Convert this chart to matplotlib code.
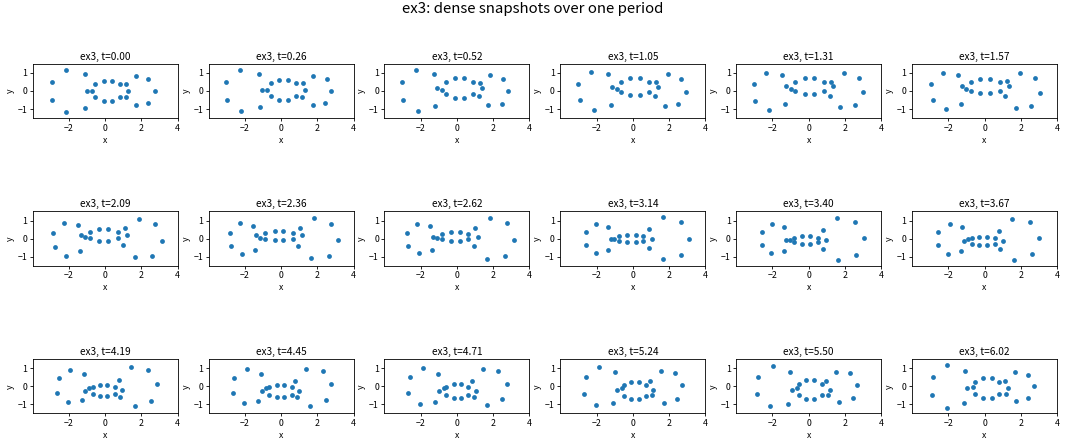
import matplotlib
matplotlib.use("Agg")
import matplotlib.pyplot as plt

plt.rcParams['font.family'] = ['Noto Sans CJK JP', 'DejaVu Sans']

times = [0.00, 0.26, 0.52, 1.05, 1.31, 1.57,
         2.09, 2.36, 2.62, 3.14, 3.40, 3.67,
         4.19, 4.45, 4.71, 5.24, 5.50, 6.02]

# point positions (24 points per frame)
xs = [
    [-2.95, -2.95, -2.15, -2.15, -1.14, -1.14, -1.03, -0.73, -0.55, -0.55, -0.09, -0.09,
     0.37, 0.37, 0.81, 0.81, 1.16, 1.16, 1.27, 1.72, 1.72, 2.37, 2.37, 2.72],
    [-3.02, -2.97, -2.25, -2.19, -1.24, -1.18, -1.07, -0.76, -0.57, -0.57, -0.13, -0.13,
     0.37, 0.37, 0.85, 0.85, 1.22, 1.18, 1.31, 1.75, 1.75, 2.51, 2.43, 2.77],
    [-3.01, -2.97, -2.28, -2.15, -1.28, -1.19, -1.10, -0.81, -0.59, -0.59, -0.11, -0.11,
     0.39, 0.39, 0.86, 0.86, 1.25, 1.19, 1.36, 1.85, 1.74, 2.55, 2.46, 2.83],
    [-3.01, -2.90, -2.32, -2.14, -1.37, -1.22, -1.17, -0.89, -0.66, -0.66, -0.15, -0.15,
     0.37, 0.37, 0.88, 0.88, 1.26, 1.21, 1.37, 1.94, 1.75, 2.68, 2.52, 2.96],
    [-3.04, -2.95, -2.36, -2.18, -1.49, -1.31, -1.27, -0.98, -0.74, -0.74, -0.20, -0.20,
     0.31, 0.31, 0.83, 0.83, 1.25, 1.16, 1.35, 1.94, 1.73, 2.75, 2.55, 3.01],
    [-2.95, -2.84, -2.31, -2.13, -1.47, -1.30, -1.27, -1.03, -0.73, -0.73, -0.24, -0.24,
     0.31, 0.31, 0.83, 0.83, 1.25, 1.14, 1.34, 1.96, 1.72, 2.77, 2.59, 3.05],
    [-2.87, -2.79, -2.28, -2.14, -1.50, -1.39, -1.35, -1.11, -0.84, -0.84, -0.33, -0.33,
     0.18, 0.18, 0.69, 0.69, 1.08, 0.99, 1.21, 1.88, 1.64, 2.76, 2.59, 3.11],
    [-2.83, -2.76, -2.29, -2.16, -1.53, -1.44, -1.36, -1.16, -0.87, -0.87, -0.35, -0.35,
     0.13, 0.13, 0.65, 0.65, 1.03, 0.92, 1.16, 1.84, 1.66, 2.78, 2.63, 3.13],
    [-2.75, -2.70, -2.18, -2.09, -1.47, -1.39, -1.30, -1.10, -0.83, -0.83, -0.33, -0.33,
     0.15, 0.15, 0.62, 0.62, 0.99, 0.92, 1.14, 1.80, 1.65, 2.75, 2.64, 3.14],
    [-2.56, -2.56, -2.03, -2.03, -1.35, -1.35, -1.22, -1.02, -0.75, -0.75, -0.31, -0.31,
     0.15, 0.15, 0.58, 0.58, 0.89, 0.89, 1.04, 1.68, 1.68, 2.67, 2.67, 3.12],
    [-2.60, -2.60, -2.05, -2.07, -1.35, -1.37, -1.24, -1.05, -0.79, -0.79, -0.37, -0.37,
     0.09, 0.09, 0.54, 0.54, 0.79, 0.81, 0.98, 1.57, 1.64, 2.58, 2.62, 3.03],
    [-2.55, -2.57, -1.93, -2.02, -1.25, -1.30, -1.14, -0.92, -0.72, -0.72, -0.29, -0.29,
     0.15, 0.15, 0.55, 0.55, 0.79, 0.86, 1.01, 1.50, 1.65, 2.50, 2.64, 2.99],
    [-2.66, -2.56, -2.08, -1.92, -1.29, -1.18, -1.09, -0.90, -0.68, -0.68, -0.28, -0.28,
     0.09, 0.09, 0.54, 0.54, 0.74, 0.83, 0.94, 1.42, 1.64, 2.34, 2.55, 2.84],
    [-2.63, -2.58, -2.06, -1.88, -1.25, -1.09, -1.03, -0.81, -0.65, -0.65, -0.24, -0.24,
     0.15, 0.15, 0.59, 0.59, 0.76, 0.88, 0.98, 1.38, 1.62, 2.30, 2.49, 2.78],
    [-2.68, -2.59, -2.04, -1.85, -1.21, -1.05, -0.97, -0.73, -0.59, -0.59, -0.18, -0.18,
     0.24, 0.24, 0.62, 0.62, 0.81, 0.92, 1.03, 1.43, 1.65, 2.29, 2.46, 2.75],
    [-2.71, -2.60, -2.02, -1.84, -1.11, -0.96, -0.89, -0.62, -0.49, -0.49, -0.09, -0.09,
     0.33, 0.33, 0.73, 0.73, 0.96, 1.04, 1.13, 1.53, 1.71, 2.31, 2.42, 2.69],
    [-2.86, -2.79, -2.12, -1.96, -1.16, -1.03, -0.92, -0.66, -0.54, -0.54, -0.13, -0.13,
     0.31, 0.31, 0.74, 0.74, 0.98, 1.05, 1.16, 1.53, 1.68, 2.29, 2.42, 2.69],
    [-2.88, -2.84, -2.09, -2.06, -1.12, -1.08, -0.95, -0.66, -0.51, -0.51, -0.06, -0.06,
     0.40, 0.40, 0.81, 0.81, 1.14, 1.16, 1.28, 1.69, 1.74, 2.42, 2.42, 2.73],
]
ys = [
    [0.52, -0.52, 1.15, -1.17, 0.93, -0.93, 0.00, 0.00, 0.37, -0.33, 0.56, -0.56,
     0.56, -0.56, 0.37, -0.33, 0.37, -0.33, 0.00, 0.83, -0.78, 0.65, -0.65, 0.00],
    [0.50, -0.50, 1.17, -1.13, 0.96, -0.87, 0.07, 0.04, 0.43, -0.26, 0.63, -0.48,
     0.63, -0.48, 0.43, -0.26, 0.43, -0.31, 0.07, 0.85, -0.78, 0.65, -0.65, -0.02],
    [0.48, -0.52, 1.15, -1.11, 0.96, -0.83, 0.15, 0.07, 0.48, -0.19, 0.70, -0.37,
     0.70, -0.37, 0.48, -0.19, 0.44, -0.30, 0.15, 0.87, -0.78, 0.67, -0.69, -0.02],
    [0.41, -0.52, 1.07, -1.06, 0.93, -0.78, 0.22, 0.11, 0.52, -0.06, 0.69, -0.22,
     0.69, -0.22, 0.52, -0.06, 0.48, -0.30, 0.22, 0.93, -0.85, 0.67, -0.74, -0.07],
    [0.37, -0.54, 1.02, -1.04, 0.91, -0.74, 0.26, 0.13, 0.52, -0.02, 0.69, -0.17,
     0.69, -0.17, 0.52, -0.02, 0.52, -0.30, 0.26, 0.98, -0.87, 0.69, -0.78, -0.07],
    [0.37, -0.52, 0.98, -0.98, 0.87, -0.70, 0.26, 0.13, 0.50, 0.02, 0.65, -0.11,
     0.65, -0.11, 0.50, 0.02, 0.56, -0.30, 0.26, 1.02, -0.93, 0.72, -0.83, -0.11],
    [0.33, -0.46, 0.87, -0.93, 0.76, -0.69, 0.22, 0.09, 0.39, 0.04, 0.52, -0.11,
     0.52, -0.11, 0.39, 0.04, 0.59, -0.37, 0.22, 1.09, -1.04, 0.80, -0.93, -0.13],
    [0.33, -0.43, 0.85, -0.85, 0.72, -0.65, 0.19, 0.06, 0.33, 0.00, 0.43, -0.09,
     0.43, -0.09, 0.33, 0.00, 0.59, -0.39, 0.19, 1.13, -1.07, 0.83, -0.96, -0.09],
    [0.33, -0.39, 0.81, -0.81, 0.70, -0.65, 0.11, 0.04, 0.28, -0.04, 0.37, -0.13,
     0.37, -0.13, 0.28, -0.04, 0.57, -0.43, 0.11, 1.15, -1.13, 0.85, -0.94, -0.07],
    [0.37, -0.37, 0.80, -0.78, 0.65, -0.63, 0.00, 0.00, 0.13, -0.13, 0.22, -0.20,
     0.22, -0.20, 0.13, -0.13, 0.52, -0.52, 0.00, 1.17, -1.15, 0.93, -0.91, 0.00],
    [0.39, -0.33, 0.81, -0.80, 0.63, -0.69, -0.07, -0.06, 0.04, -0.19, 0.15, -0.28,
     0.15, -0.28, 0.04, -0.19, 0.48, -0.56, -0.07, 1.15, -1.19, 0.94, -0.89, 0.02],
    [0.39, -0.33, 0.81, -0.83, 0.63, -0.70, -0.13, -0.04, 0.02, -0.28, 0.11, -0.37,
     0.11, -0.37, 0.02, -0.28, 0.43, -0.59, -0.13, 1.11, -1.19, 0.93, -0.85, 0.06],
    [-0.35, 0.44, -0.89, 0.91, -0.78, 0.67, -0.24, -0.11, -0.04, -0.41, 0.09, -0.54,
     0.09, -0.54, -0.04, -0.41, 0.35, -0.59, -0.22, 1.04, -1.11, 0.91, -0.80, 0.11],
    [-0.35, 0.48, -0.93, 0.94, -0.83, 0.67, -0.26, -0.11, -0.04, -0.46, 0.09, -0.59,
     0.09, -0.59, -0.04, -0.46, 0.31, -0.59, -0.26, 0.96, -1.09, 0.87, -0.78, 0.11],
    [-0.35, 0.50, -0.96, 1.00, -0.87, 0.70, -0.26, -0.11, -0.02, -0.50, 0.11, -0.65,
     0.11, -0.65, -0.02, -0.50, 0.30, -0.57, -0.26, 0.94, -1.02, 0.85, -0.72, 0.11],
    [-0.41, 0.54, -1.04, 1.06, -0.93, 0.78, -0.22, -0.07, 0.06, -0.54, 0.24, -0.69,
     0.24, -0.69, 0.06, -0.54, 0.30, -0.50, -0.22, 0.85, -0.93, 0.76, -0.69, 0.09],
    [-0.43, 0.54, -1.11, 1.11, -0.96, 0.80, -0.20, -0.11, 0.13, -0.50, 0.33, -0.70,
     0.33, -0.70, 0.13, -0.50, 0.30, -0.46, -0.20, 0.80, -0.89, 0.72, -0.65, 0.06],
    [-0.48, 0.54, -1.19, 1.15, -0.94, 0.87, -0.07, -0.04, 0.26, -0.41, 0.48, -0.63,
     0.48, -0.63, 0.26, -0.41, 0.31, -0.41, -0.07, 0.78, -0.83, 0.65, -0.65, 0.02],
]

fig, axes = plt.subplots(3, 6, figsize=(10.66, 4.44), dpi=100)
fig.subplots_adjust(left=0.0307, right=0.9916, top=0.9077, bottom=0.0173,
                    wspace=0.213, hspace=0.476)

for ax, t, x, y in zip(axes.flat, times, xs, ys):
    ax.scatter(x, y, s=12, color='#1f77b4', linewidths=0)
    ax.set_xlim(-4, 4)
    ax.set_ylim(-1.5, 1.5)
    ax.set_aspect('equal')
    ax.set_xticks([-2, 0, 2, 4])
    ax.set_yticks([-1, 0, 1])
    ax.tick_params(labelsize=6.3, length=2.5, width=0.6, pad=1.5)
    for sp in ax.spines.values():
        sp.set_linewidth(0.6)
    ax.set_title(f"ex3, t={t:.2f}", fontsize=7.3, pad=3)
    ax.set_xlabel("x", fontsize=6.3, labelpad=2)
    ax.set_ylabel("y", fontsize=6.3, labelpad=2)

fig.suptitle("ex3: dense snapshots over one period", fontsize=10.8, y=0.995)

plt.savefig("out.png", dpi=100)
